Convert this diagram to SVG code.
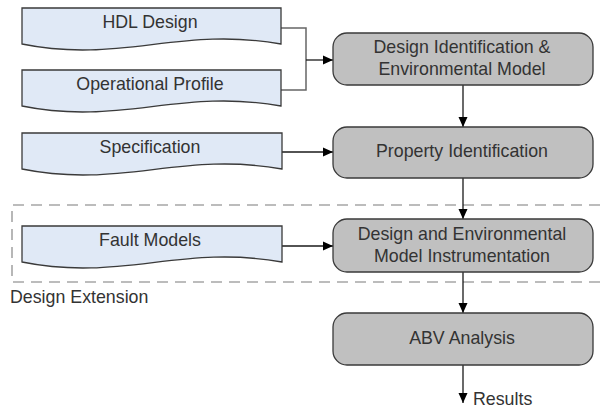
<svg xmlns="http://www.w3.org/2000/svg" width="600" height="411" viewBox="0 0 600 411">
<defs>
<marker id="arr" viewBox="0 0 10 10" refX="10" refY="5" markerWidth="10" markerHeight="10" markerUnits="userSpaceOnUse" orient="auto">
<path d="M0,0.5 L10,5 L0,9.5 Z" fill="#000"/>
</marker>
<style>
.doc{fill:#e0e9f6;stroke:#3a3a3a;stroke-width:1.3}
.proc{fill:#c0c0c0;stroke:#3a3a3a;stroke-width:1.3}
.t{font-family:"Liberation Sans",Arial,sans-serif;font-size:17.8px;fill:#333;text-anchor:middle}
.ts{font-family:"Liberation Sans",Arial,sans-serif;font-size:17.8px;fill:#333}
.c{fill:none;stroke:#1a1a1a;stroke-width:1.3}
.b{fill:none;stroke:#666;stroke-width:1.5}
</style>
</defs>
<rect x="0" y="0" width="600" height="411" fill="#fff"/>
<g id="design-extension">
<path d="M600,205 H12 V282 H600" fill="none" stroke="#a6a6a6" stroke-width="1.6" stroke-dasharray="11,7"/>
<text class="ts" x="10" y="303">Design Extension</text>
</g>
<g id="connectors">
<path class="b" d="M281,28 H306 V90 H281"/>
<path class="c" d="M306,60 H333" marker-end="url(#arr)"/>
<path class="c" d="M282,152 H333" marker-end="url(#arr)"/>
<path class="c" d="M282,246 H333" marker-end="url(#arr)"/>
<path class="c" d="M463,85 V127" marker-end="url(#arr)"/>
<path class="c" d="M463,178 V219" marker-end="url(#arr)"/>
<path class="c" d="M463,272 V313" marker-end="url(#arr)"/>
<path class="c" d="M463,365 V403" marker-end="url(#arr)"/>
<text class="ts" x="473" y="405">Results</text>
</g>
<g id="hdl-design">
<path class="doc" d="M22,8 H281 V44 C180,26 120,64 22,44 Z"/>
<text class="t" x="150" y="28">HDL Design</text>
</g>
<g id="operational-profile">
<path class="doc" d="M22,70 H281 V106 C180,88 120,126 22,106 Z"/>
<text class="t" x="150" y="90">Operational Profile</text>
</g>
<g id="specification">
<path class="doc" d="M22,133 H282 V169 C181,151 121,189 22,169 Z"/>
<text class="t" x="150" y="153">Specification</text>
</g>
<g id="fault-models">
<path class="doc" d="M22,226 H282 V262 C181,244 121,282 22,262 Z"/>
<text class="t" x="150" y="246">Fault Models</text>
</g>
<g id="design-identification">
<rect class="proc" x="333" y="33" width="260" height="52" rx="14"/>
<text class="t" x="462" y="53">Design Identification &amp;</text>
<text class="t" x="462" y="75">Environmental Model</text>
</g>
<g id="property-identification">
<rect class="proc" x="333" y="127" width="260" height="51" rx="14"/>
<text class="t" x="462" y="157">Property Identification</text>
</g>
<g id="instrumentation">
<rect class="proc" x="333" y="219" width="260" height="53" rx="14"/>
<text class="t" x="462" y="240">Design and Environmental</text>
<text class="t" x="462" y="262">Model Instrumentation</text>
</g>
<g id="abv-analysis">
<rect class="proc" x="333" y="313" width="260" height="52" rx="14"/>
<text class="t" x="462" y="344">ABV Analysis</text>
</g>
</svg>
